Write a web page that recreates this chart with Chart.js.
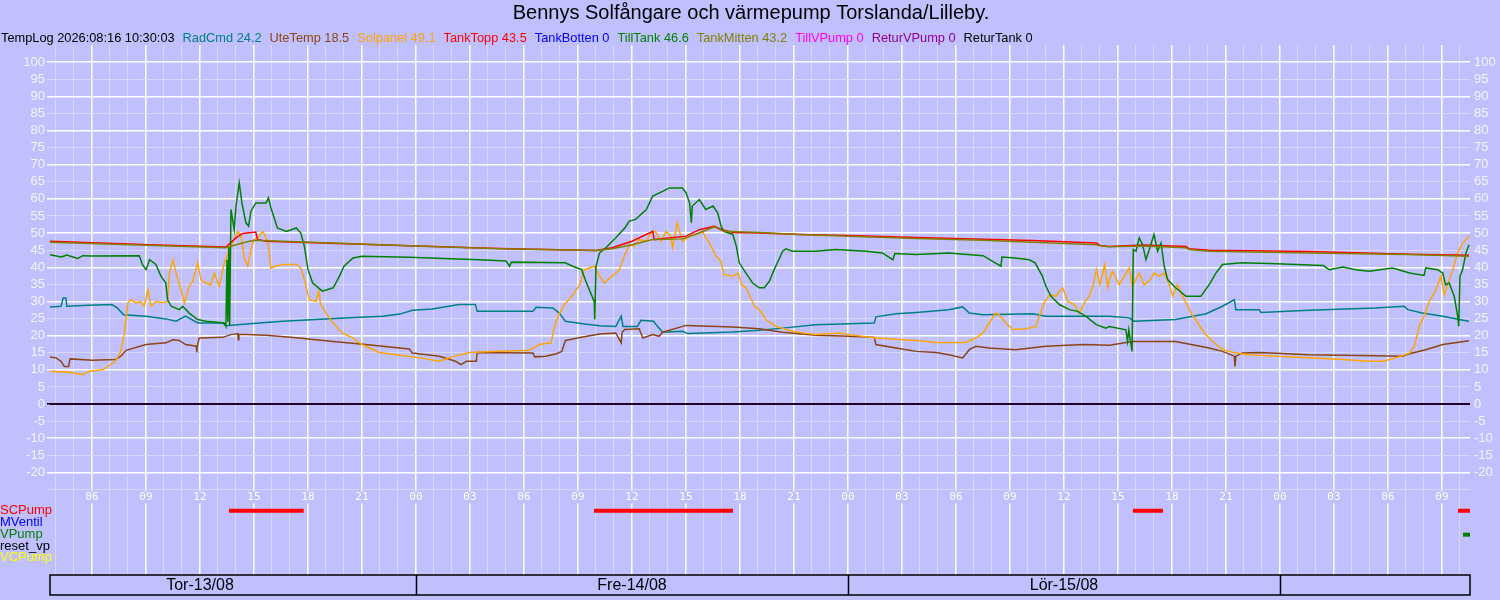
<!DOCTYPE html>
<html>
<head>
<meta charset="utf-8">
<title>Bennys Solfångare och värmepump</title>
<script src="https://cdn.jsdelivr.net/npm/chart.js@4.4.1/dist/chart.umd.min.js"></script>
<style>
  html, body { margin: 0; padding: 0; background: #c0c0ff; }
  #wrap { width: 1500px; height: 600px; position: relative; }
</style>
</head>
<body>
<div id="wrap"><canvas id="tempChart"></canvas></div>
<script>
// hours counted from Tor 13/08 00:00
const chartTitle = "Bennys Solfångare och värmepump Torslanda/Lilleby.";
const logStamp = "TempLog 2026:08:16 10:30:03";
const seriesNames = ["RadCmd", "UteTemp", "Solpanel", "TankTopp", "TankBotten", "TillTank", "TankMitten", "TillVPump", "ReturVPump", "ReturTank"];
const seriesNow = [24.2, 18.5, 49.1, 43.5, 0, 46.6, 43.2, 0, 0, 0];
const seriesColors = ["#008080", "#8b4513", "#ffa500", "#ff0000", "#0000ff", "#008000", "#808000", "#ff00ff", "#900090", "#000000"];
const dayLabels = ["Tor-13/08", "Fre-14/08", "Lör-15/08"];
const dayStarts = [0, 24, 48, 72];
const yTicksShown = [-20, 100];

const radCmdT = [3.63, 4.28, 4.4, 4.55, 4.6, 5.8, 7.1, 7.4, 7.76, 9.0, 10.1, 10.67, 11.2, 11.87, 13.26, 13.44, 14.74, 16.6, 18.44, 20.3, 22.15, 23.1, 23.8, 24.9, 26.4, 27.3, 27.4, 30.5, 30.67, 31.6, 31.96, 32.3, 33.26, 34.2, 35.1, 35.4, 35.5, 36.3, 36.5, 37.2, 37.3, 37.7, 38.8, 39.1, 41.6, 43.07, 44.37, 46.2, 49.46, 49.55, 50.67, 51.8, 53.6, 54.37, 54.74, 55.5, 58.26, 59.0, 62.52, 63.63, 63.9, 66.2, 67.9, 68.8, 69.46, 69.55, 70.85, 70.94, 73.6, 77.3, 78.9, 79.1, 79.9, 81.04, 81.96, 82.5];
const radCmdV = [28.4, 28.6, 31, 31, 28.6, 28.9, 29.1, 28.1, 26.1, 25.7, 24.9, 24.2, 25.7, 23.7, 23.7, 22.9, 23.5, 24.2, 24.7, 25.2, 25.7, 26.3, 27.4, 27.8, 29.1, 29.1, 27.1, 27.1, 28.3, 28.1, 26.6, 24.2, 23.5, 22.9, 22.7, 25.7, 22.7, 22.7, 24.5, 24.2, 23.5, 21, 21.3, 20.6, 21.1, 21.6, 22.2, 23.2, 23.7, 25.5, 26.4, 26.8, 27.6, 28.4, 26.6, 26.1, 26.4, 25.7, 25.7, 25.2, 24.2, 24.7, 26.4, 28.6, 30.5, 27.6, 27.6, 26.8, 27.4, 28.1, 28.6, 27.6, 26.6, 25.7, 24.7, 24.2];

const uteTempT = [3.63, 4.0, 4.28, 4.46, 4.7, 4.78, 6.04, 7.3, 7.6, 7.9, 9.0, 10.1, 10.5, 10.85, 11.2, 11.8, 11.82, 11.85, 11.96, 13.26, 13.72, 14.1, 14.13, 14.16, 15.67, 17.5, 19.4, 21.2, 22.15, 23.63, 23.8, 25.3, 26.2, 26.5, 26.8, 27.35, 27.4, 30.5, 30.6, 31.2, 31.8, 32.1, 32.3, 33.26, 34.2, 35.1, 35.4, 35.45, 35.6, 36.4, 36.6, 37.15, 37.5, 37.7, 39.0, 41.6, 43.07, 44.37, 46.2, 48.07, 49.46, 49.55, 50.67, 51.8, 52.9, 53.6, 54.37, 54.74, 55.1, 55.85, 57.3, 59.0, 61.04, 62.52, 63.8, 66.2, 68.07, 68.8, 69.46, 69.5, 69.55, 69.9, 70.85, 73.6, 77.3, 78.8, 79.2, 80.1, 81.04, 82.5];
const uteTempV = [13.8, 13.5, 12.5, 11, 11, 13.2, 12.8, 13, 14, 15.7, 17.4, 17.9, 18.8, 18.6, 17.4, 16.9, 15.1, 16.9, 19.3, 19.5, 20.3, 20.6, 18.8, 20.4, 20.1, 19.3, 18.3, 17.4, 16.9, 16.1, 14.9, 14, 12.5, 11.5, 12.5, 12.5, 15.1, 14.9, 13.8, 14, 14.7, 15.4, 18.6, 19.6, 20.5, 20.8, 17.9, 21, 21.8, 22, 19.3, 20.3, 19.8, 21, 23, 22.5, 22, 21, 20.1, 19.8, 19.5, 17.4, 16.4, 15.4, 15.1, 14.4, 13.5, 15.9, 16.9, 16.4, 15.9, 16.9, 17.4, 17.2, 18.3, 18.3, 16.4, 15.4, 14, 11, 14, 14.9, 15.1, 14.4, 14.1, 14, 14.7, 15.9, 17.4, 18.5];

const solpanelT = [3.63, 4.74, 5.48, 5.85, 6.6, 7.3, 7.6, 7.8, 8.0, 8.17, 8.44, 8.7, 8.9, 9.1, 9.28, 9.55, 9.93, 10.2, 10.3, 10.5, 10.67, 10.94, 11.13, 11.4, 11.6, 11.87, 12.05, 12.33, 12.6, 12.8, 13.07, 13.35, 13.53, 13.72, 14.1, 14.28, 14.46, 14.65, 14.83, 15.0, 15.2, 15.48, 15.76, 15.94, 16.2, 16.6, 17.35, 17.6, 17.8, 18.07, 18.44, 18.6, 18.7, 19.0, 19.4, 19.9, 20.5, 21.0, 21.96, 22.9, 24.2, 25.3, 26.0, 26.96, 28.63, 30.3, 30.85, 31.5, 31.7, 31.9, 32.24, 32.5, 32.8, 33.1, 33.35, 33.63, 33.9, 34.2, 34.46, 34.9, 35.3, 35.57, 35.85, 36.1, 36.4, 36.78, 37.05, 37.3, 37.6, 37.9, 38.15, 38.26, 38.5, 38.8, 39.2, 39.55, 39.9, 40.3, 40.67, 40.94, 41.1, 41.6, 41.9, 42.1, 42.33, 42.6, 42.8, 43.07, 43.44, 44.0, 44.9, 46.2, 47.5, 48.07, 49.55, 51.8, 52.9, 54.55, 55.1, 55.5, 55.85, 56.2, 56.4, 56.78, 57.15, 57.9, 58.44, 58.6, 58.9, 59.2, 59.55, 59.93, 60.2, 60.57, 60.85, 61.13, 61.4, 61.6, 61.8, 62.0, 62.26, 62.43, 62.52, 62.7, 63.07, 63.63, 63.8, 64.18, 64.46, 64.8, 65.0, 65.3, 65.57, 65.85, 66.04, 66.3, 66.5, 66.78, 67.06, 67.43, 67.8, 68.26, 68.8, 69.55, 70.3, 71.8, 73.6, 75.5, 76.96, 77.7, 78.44, 79.2, 79.46, 79.74, 80.0, 80.3, 80.67, 80.94, 81.13, 81.3, 81.6, 81.87, 82.15, 82.5];
const solpanelV = [9.6, 9.3, 8.6, 9.6, 10, 12.5, 15.4, 20.8, 29.6, 30.5, 29.6, 30, 28.6, 33.5, 28.6, 30, 29.6, 30, 38.3, 42.2, 38.3, 33.5, 29.6, 34.4, 35.9, 41.3, 36.4, 35.4, 34.9, 38.3, 34.4, 41.3, 43.7, 46.1, 50.5, 49.1, 42.7, 40.3, 45.2, 48.1, 48.6, 50.5, 47.6, 39.8, 40.3, 40.8, 40.8, 39.8, 36.4, 30.5, 30, 33, 29.1, 26.6, 23.7, 20.8, 19.3, 17.4, 15.1, 14.4, 13.5, 12.5, 13.8, 15.1, 15.4, 15.7, 17.4, 17.9, 22.7, 25.7, 29.1, 30.5, 32.5, 34.9, 39.3, 39.8, 40.3, 37.4, 35.4, 37.4, 39.3, 43.2, 46.6, 46.1, 48.1, 47.6, 50, 50.5, 47.6, 50.5, 49.1, 45.7, 53, 47.6, 49.1, 49.6, 50.5, 47.1, 43.2, 41.8, 37.9, 37.4, 38.3, 34.9, 34, 31, 28.6, 27.6, 24.7, 22.7, 21.3, 20.3, 20.8, 20.3, 19.3, 18.6, 18, 18, 19.3, 20.8, 23.7, 26.6, 26.1, 23.7, 21.8, 22, 22.7, 25.2, 29.6, 32, 31.5, 34, 30, 29.1, 26.6, 29.6, 31.5, 34.4, 39.3, 34.9, 40.8, 34, 36.4, 38.8, 34.9, 39.8, 34.4, 38.3, 34.9, 36.4, 38.3, 37.4, 38.3, 34.9, 31.5, 34.9, 32.5, 29.6, 26.6, 23.7, 20.8, 18.3, 15.9, 14.9, 14.4, 14, 13.5, 13, 12.5, 12.5, 13.5, 14.9, 16.9, 22.7, 25.7, 30, 33.5, 37.4, 32, 34.9, 39.3, 44.2, 47.1, 49.1];

const tankToppT = [3.63, 9.2, 13.44, 14.0, 14.37, 15.1, 15.2, 15.67, 23.6, 28.63, 34.0, 34.9, 36.0, 37.15, 37.24, 39.0, 39.74, 40.57, 41.0, 41.6, 43.07, 45.3, 48.07, 51.8, 55.5, 58.26, 61.8, 62.0, 62.52, 64.4, 66.78, 66.96, 68.07, 73.6, 79.2, 82.5];
const tankToppV = [47.6, 46.6, 45.9, 48.6, 49.9, 50.3, 48.1, 47.6, 46.3, 45.5, 44.9, 45.7, 47.6, 50.5, 48.1, 49.1, 51, 52, 51, 50.2, 50, 49.6, 49.3, 48.7, 48.2, 47.8, 47.1, 46.4, 46.1, 46.5, 46.1, 45.4, 45.0, 44.6, 43.8, 43.5];

const tillTankT = [3.63, 4.3, 4.6, 5.2, 5.5, 6.0, 8.63, 8.8, 9.0, 9.2, 9.55, 9.83, 10.1, 10.2, 10.4, 10.85, 11.04, 11.4, 11.87, 12.33, 13.35, 13.44, 13.5, 13.55, 13.6, 13.65, 13.72, 13.9, 14.0, 14.18, 14.33, 14.55, 14.7, 14.83, 15.1, 15.67, 15.8, 15.94, 16.3, 16.8, 17.35, 17.6, 17.8, 18.0, 18.26, 18.8, 19.4, 19.75, 20.0, 20.5, 21.0, 23.6, 27.5, 29.0, 29.2, 29.3, 32.3, 32.7, 33.2, 33.4, 33.7, 33.9, 33.93, 34.0, 34.2, 34.55, 35.1, 35.6, 35.85, 36.2, 36.8, 37.15, 37.7, 38.07, 38.8, 39.0, 39.2, 39.3, 39.35, 39.74, 40.1, 40.5, 40.76, 40.95, 41.1, 41.6, 41.8, 41.96, 42.33, 42.7, 43.07, 43.35, 43.63, 43.9, 44.2, 44.37, 44.55, 44.9, 46.2, 47.3, 49.0, 49.9, 50.5, 50.6, 51.8, 53.6, 55.5, 56.5, 56.55, 57.3, 58.07, 58.4, 58.6, 58.8, 59.0, 59.28, 59.74, 60.3, 60.76, 61.2, 61.8, 62.33, 62.52, 63.44, 63.53, 63.6, 63.78, 63.85, 64.0, 64.18, 64.37, 64.55, 64.74, 65.0, 65.2, 65.39, 65.57, 65.76, 66.2, 66.78, 67.6, 68.07, 68.44, 68.8, 69.9, 71.8, 74.4, 74.74, 75.5, 76.2, 76.96, 78.26, 79.2, 80.0, 80.1, 80.76, 81.04, 81.2, 81.4, 81.68, 81.87, 81.93, 82.0, 82.15, 82.33, 82.5];
const tillTankV = [43.7, 43.0, 43.6, 42.6, 43.4, 43.3, 43.4, 40.8, 39.3, 42.2, 40.8, 37.4, 35.4, 30.5, 28.6, 27.6, 28.6, 26.6, 24.7, 24.2, 23.7, 22.7, 42.2, 24, 46, 23, 56.9, 51, 57.9, 64.7, 58.8, 53, 52, 56.4, 58.8, 58.8, 60.3, 57.4, 51.5, 50.5, 51.5, 50, 46.1, 39.3, 35.4, 33, 34, 37.4, 40.3, 42.7, 43.2, 42.9, 42.2, 41.8, 40.3, 41.5, 41.3, 40.3, 39.3, 36.4, 32.5, 30, 24.7, 40.3, 44.2, 45.7, 48.6, 51.5, 53.5, 54, 56.9, 60.8, 62.2, 63.2, 63.2, 61.8, 58.8, 53, 57.9, 59.8, 56.9, 57.9, 55.9, 52, 50.5, 49.6, 46.1, 41.3, 38.3, 35.4, 34, 34, 35.9, 39.3, 42.7, 44.7, 45.4, 44.7, 44.7, 45.2, 44.7, 44.2, 42.2, 44, 43.7, 44.2, 43.4, 40.3, 43, 42.7, 42.2, 41.3, 39.3, 37.4, 34.4, 31.5, 29.1, 27.6, 27.1, 25.7, 23.2, 22.2, 22.7, 21.7, 18.3, 21.7, 15.4, 45.2, 44.7, 48.6, 46.6, 42.2, 45.2, 49.6, 44.7, 47.1, 40.3, 36.4, 34, 31.5, 31.5, 34.9, 38.3, 40.8, 41.3, 41, 40.5, 39.3, 40.1, 39.3, 38.8, 39.8, 38.3, 37.6, 39.8, 39.3, 38.3, 34.9, 35.4, 31.5, 25.7, 22.7, 37.4, 39.3, 44.2, 46.6];

const tankMittenT = [3.63, 13.44, 14.0, 14.74, 15.1, 16.6, 23.6, 28.63, 34.0, 34.9, 36.0, 37.15, 38.8, 39.74, 40.57, 41.1, 43.07, 45.3, 48.07, 51.8, 55.5, 58.26, 61.8, 62.0, 62.52, 64.4, 66.78, 66.96, 68.07, 73.6, 79.2, 82.5];
const tankMittenV = [47.3, 45.7, 46.6, 47.6, 47.9, 47.6, 46.3, 45.4, 44.9, 45.4, 46.6, 48.1, 48.3, 50, 51.8, 50.5, 50.2, 49.6, 49.1, 48.4, 47.9, 47.3, 46.6, 46.3, 46.0, 46.2, 45.7, 45.2, 44.7, 44.2, 43.7, 43.2];

// sensors reading 0 over the whole period
const zeroT = [3.667, 82.556];
const tankBottenV = [0, 0];
const tillVPumpV = [0, 0];
const returVPumpV = [0, 0];
const returTankV = [0, 0];

// on/off signals, [start, stop] in hours
const signalNames = ["SCPump", "MVentil", "VPump", "reset_vp", "VCPump"];
const signalColors = ["#ff0000", "#0000ff", "#008000", "#000000", "#ffff00"];
const signalOn = [
  [[13.61, 17.76], [33.89, 41.61], [63.83, 65.5], [81.89, 82.56]],
  [],
  [[82.17, 82.56]],
  [],
  []
];

// row levels on the value axis for the signal strip and hour labels
const signalLevels = [-31.2, -34.7, -38.2, -41.7, -45.0];
const hourLabelLevel = -27.3;
const FONT = '"Liberation Sans", Arial, sans-serif';

function zip(t, v) {
  return t.map((x, i) => ({ x: x, y: v[i] }));
}

const seriesData = [
  zip(radCmdT, radCmdV),
  zip(uteTempT, uteTempV),
  zip(solpanelT, solpanelV),
  zip(tankToppT, tankToppV),
  zip(zeroT, tankBottenV),
  zip(tillTankT, tillTankV),
  zip(tankMittenT, tankMittenV),
  zip(zeroT, tillVPumpV),
  zip(zeroT, returVPumpV),
  zip(zeroT, returTankV)
];

const datasets = seriesData.map((d, i) => ({
  label: seriesNames[i],
  data: d,
  borderColor: seriesColors[i],
  backgroundColor: seriesColors[i],
  borderWidth: 1.5,
  pointRadius: 0,
  tension: 0,
  order: 20 - i,
  yAxisID: "y"
}));

signalOn.forEach((spans, i) => {
  const pts = [];
  spans.forEach((s) => {
    pts.push({ x: s[0], y: signalLevels[i] });
    pts.push({ x: s[1], y: signalLevels[i] });
    pts.push({ x: s[1], y: null });
  });
  datasets.push({
    label: signalNames[i],
    data: pts,
    borderColor: signalColors[i],
    borderWidth: 4,
    borderCapStyle: "butt",
    pointRadius: 0,
    spanGaps: false,
    order: 0,
    yAxisID: "y"
  });
});

const bg = "#c0c0ff";
const lightGrid = "#d8d8ff";

const decorPlugin = {
  id: "decor",
  beforeDatasetsDraw(chart) {
    const ctx = chart.ctx;
    const xs = chart.scales.x;
    const ys = chart.scales.y;
    const yy = ys.getPixelForValue(hourLabelLevel);
    ctx.save();
    ctx.font = '11px "DejaVu Sans Mono", monospace';
    ctx.textAlign = "center";
    ctx.textBaseline = "middle";
    for (let h = Math.ceil(xs.min); h <= xs.max; h++) {
      if (h % 3 !== 0) continue;
      const px = xs.getPixelForValue(h);
      const txt = String(h % 24).padStart(2, "0");
      const w = ctx.measureText(txt).width;
      ctx.fillStyle = bg;
      ctx.fillRect(px - w / 2 - 1, yy - 6, w + 2, 12);
      ctx.fillStyle = "#ffffff";
      ctx.fillText(txt, px, yy);
    }
    ctx.restore();
  },
  afterDraw(chart) {
    const ctx = chart.ctx;
    const xs = chart.scales.x;
    const ys = chart.scales.y;
    const area = chart.chartArea;
    ctx.save();
    ctx.textBaseline = "middle";

    // title
    ctx.fillStyle = "#000000";
    ctx.font = "20px " + FONT;
    ctx.textAlign = "center";
    ctx.fillText(chartTitle, 751, 13);

    // current values row
    ctx.font = "12.8px " + FONT;
    ctx.textAlign = "left";
    let lx = 1;
    ctx.fillText(logStamp, lx, 38);
    lx += ctx.measureText(logStamp).width + 8;
    seriesNames.forEach((n, i) => {
      const t = n + " " + seriesNow[i];
      ctx.fillStyle = seriesColors[i];
      ctx.fillText(t, lx, 38);
      lx += ctx.measureText(t).width + 8;
    });

    // signal names
    ctx.font = "13px " + FONT;
    signalNames.forEach((n, i) => {
      ctx.fillStyle = signalColors[i];
      ctx.fillText(n, 0, ys.getPixelForValue(signalLevels[i]));
    });

    // day strip
    const top = area.bottom;
    const h = 20;
    ctx.strokeStyle = "#000000";
    ctx.lineWidth = 1.5;
    ctx.strokeRect(area.left, top, area.right - area.left, h);
    dayStarts.forEach((d) => {
      if (d <= xs.min || d >= xs.max) return;
      const px = Math.round(xs.getPixelForValue(d)) + 0.5;
      ctx.beginPath();
      ctx.moveTo(px, top);
      ctx.lineTo(px, top + h);
      ctx.stroke();
    });
    ctx.fillStyle = "#000000";
    ctx.font = "16px " + FONT;
    ctx.textAlign = "center";
    dayLabels.forEach((lab, i) => {
      const noon = dayStarts[i] + 12;
      if (noon < xs.min || noon > xs.max) return;
      ctx.fillText(lab, xs.getPixelForValue(noon), top + h / 2 + 1);
    });
    ctx.restore();
  }
};

function yGridColor(c) {
  const v = c.tick ? c.tick.value : 0;
  if (v < -25 || v > 100) return "rgba(0,0,0,0)";
  if (v === 0) return "#000000";
  return v % 10 === 0 ? "#ffffff" : lightGrid;
}

const ctx = document.getElementById("tempChart").getContext("2d");
new Chart(ctx, {
  type: "line",
  data: { datasets: datasets },
  plugins: [decorPlugin],
  options: {
    responsive: true,
    maintainAspectRatio: false,
    animation: false,
    layout: { padding: { top: 45, bottom: 25, left: 0, right: 0 } },
    plugins: {
      legend: { display: false },
      tooltip: { enabled: false },
      title: { display: false }
    },
    scales: {
      x: {
        type: "linear",
        min: 3.667,
        max: 82.556,
        afterFit: (s) => { s.height = 0; },
        ticks: { display: false, stepSize: 1, includeBounds: false },
        grid: {
          drawTicks: false,
          color: (c) => (c.tick && c.tick.value % 3 === 0 ? "#ffffff" : lightGrid),
          lineWidth: (c) => (c.tick && c.tick.value % 3 === 0 ? 1.5 : 1)
        },
        border: { display: false }
      },
      y: {
        position: "left",
        min: -50,
        max: 105,
        afterFit: (s) => { s.width = 50; },
        ticks: {
          stepSize: 5,
          autoSkip: false,
          padding: 2,
          color: "#f4f4ff",
          font: { family: FONT, size: 13 },
          callback: (v) => (v >= yTicksShown[0] && v <= yTicksShown[1] ? String(v) : "")
        },
        grid: {
          tickLength: 3,
          color: yGridColor,
          lineWidth: (c) => (c.tick && (c.tick.value % 10 === 0) ? 1.5 : 1)
        },
        border: { display: false }
      },
      y2: {
        position: "right",
        min: -50,
        max: 105,
        afterFit: (s) => { s.width = 30; },
        ticks: {
          stepSize: 5,
          autoSkip: false,
          padding: 4,
          color: "#f4f4ff",
          font: { family: FONT, size: 13 },
          callback: (v) => (v >= yTicksShown[0] && v <= yTicksShown[1] ? String(v) : "")
        },
        grid: { display: false, drawTicks: false },
        border: { display: false }
      }
    }
  }
});
</script>
</body>
</html>
